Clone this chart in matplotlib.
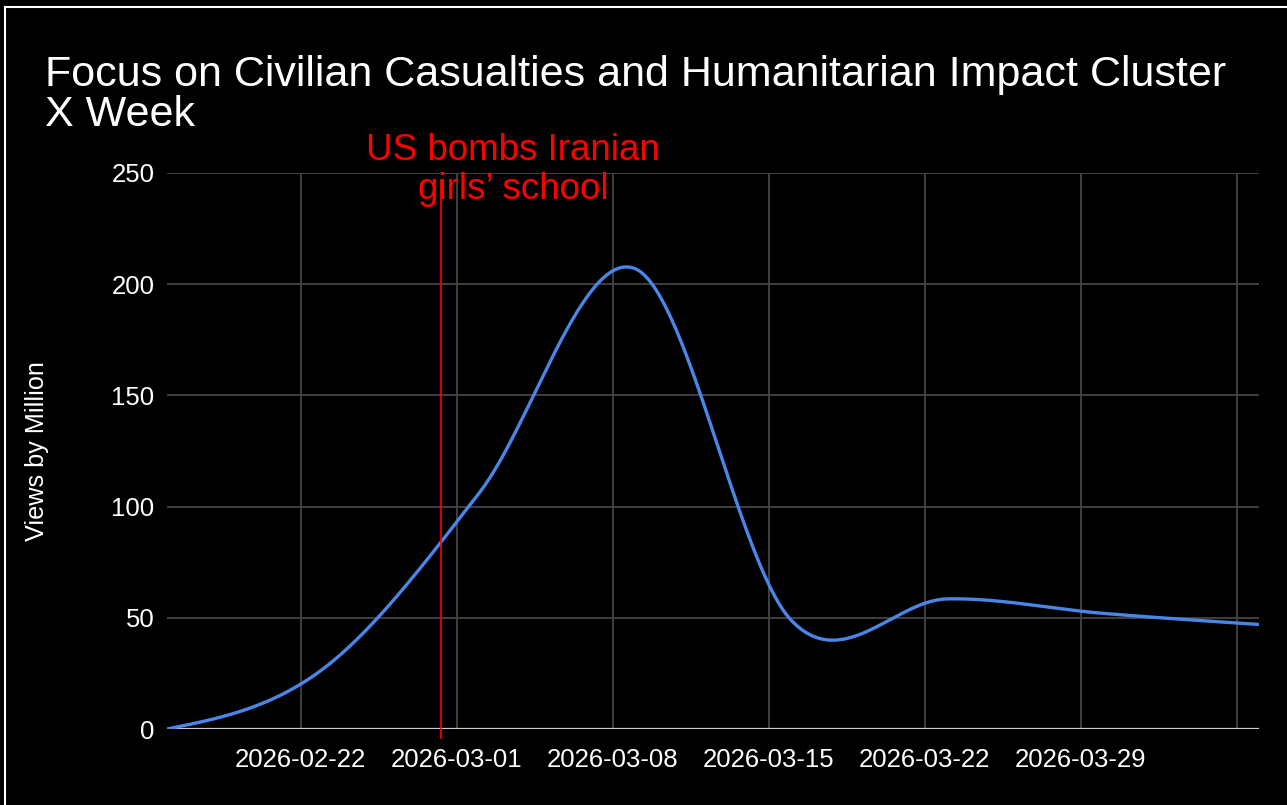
import matplotlib
matplotlib.use("Agg")
import matplotlib.pyplot as plt
import matplotlib.dates as mdates
from matplotlib.lines import Line2D
import numpy as np
import pandas as pd

# weekly views (millions)
weeks = ["2026-02-16", "2026-02-23", "2026-03-02", "2026-03-09",
         "2026-03-16", "2026-03-23", "2026-03-30", "2026-04-06"]
views = [0, 27, 106, 207, 49, 58.5, 52, 47]

tick_dates = ["2026-02-22", "2026-03-01", "2026-03-08", "2026-03-15",
              "2026-03-22", "2026-03-29", "2026-04-05"]
tick_labels = ["2026-02-22", "2026-03-01", "2026-03-08", "2026-03-15",
               "2026-03-22", "2026-03-29", ""]
y_ticks = [0, 50, 100, 150, 200, 250]

event_date = "2026-02-28 07:00"
event_text = "US bombs Iranian\ngirls\u2019 school"
title = "Focus on Civilian Casualties and Humanitarian Impact Cluster\nX Week"

plt.rcParams['font.family'] = ['Liberation Sans', 'DejaVu Sans']

x = mdates.date2num(pd.to_datetime(weeks))
y = np.array(views, dtype=float)


# smooth curve through the points (catmull-rom with natural ends)
def smooth(xs, ys, n=60):
    m = np.zeros_like(ys)
    m[1:-1] = (ys[2:] - ys[:-2]) / 2
    m[0] = (3 * (ys[1] - ys[0]) - m[1]) / 2
    m[-1] = (3 * (ys[-1] - ys[-2]) - m[-2]) / 2
    xo, yo = [], []
    for i in range(len(xs) - 1):
        t = np.linspace(0, 1, n, endpoint=False)
        h00 = 2*t**3 - 3*t**2 + 1
        h10 = t**3 - 2*t**2 + t
        h01 = -2*t**3 + 3*t**2
        h11 = t**3 - t**2
        yo.append(h00*ys[i] + h10*m[i] + h01*ys[i+1] + h11*m[i+1])
        xo.append(xs[i] + t*(xs[i+1] - xs[i]))
    xo.append([xs[-1]])
    yo.append([ys[-1]])
    return np.concatenate(xo), np.concatenate(yo)


xs, ys = smooth(x, y)

fig = plt.figure(figsize=(12.87, 8.05), dpi=100, facecolor='black')
ax = fig.add_axes([167/1287, 76/805, 1092/1287, 556/805])
ax.set_facecolor('black')

ax.plot(xs, ys, color='#4a86e8', lw=2.4, solid_capstyle='round', zorder=3)

ax.set_xlim(x[0], x[-1])
ax.set_ylim(0, 250)
ax.set_yticks(y_ticks)
ax.set_xticks(mdates.date2num(pd.to_datetime(tick_dates)))
ax.set_xticklabels(tick_labels)
ax.grid(True, color='#444444', lw=1.3)
ax.set_axisbelow(True)
for s in ax.spines.values():
    s.set_visible(False)
ax.axhline(0, color='#cccccc', lw=1.6, zorder=2)
ax.tick_params(length=0, colors='white', labelsize=18.5)
ax.tick_params(axis='x', pad=14)
ax.tick_params(axis='y', pad=9)
ax.set_ylabel("Views by Million", color='white', fontsize=18.2, labelpad=45)

# event marker
ev = mdates.date2num(pd.Timestamp(event_date))
ax.plot([ev, ev], [-4, 247], color='#ff0000', lw=1.2, clip_on=False, zorder=4)
fig.text(513/1287, 1 - 170/805, event_text, color='#ff0000', fontsize=26.5,
         ha='center', va='center', linespacing=1.15)

fig.text(45/1287, 1 - 55/805, title, color='white', fontsize=31,
         ha='left', va='top', linespacing=1.0)

# frame lines on the left and top edge
fig.add_artist(Line2D([5/1287, 5/1287], [0, 1 - 7/805], color='white', lw=1.5,
                      transform=fig.transFigure))
fig.add_artist(Line2D([5/1287, 1], [1 - 7/805, 1 - 7/805], color='white', lw=1.5,
                      transform=fig.transFigure))

fig.savefig("out.png", dpi=100, facecolor='black')
